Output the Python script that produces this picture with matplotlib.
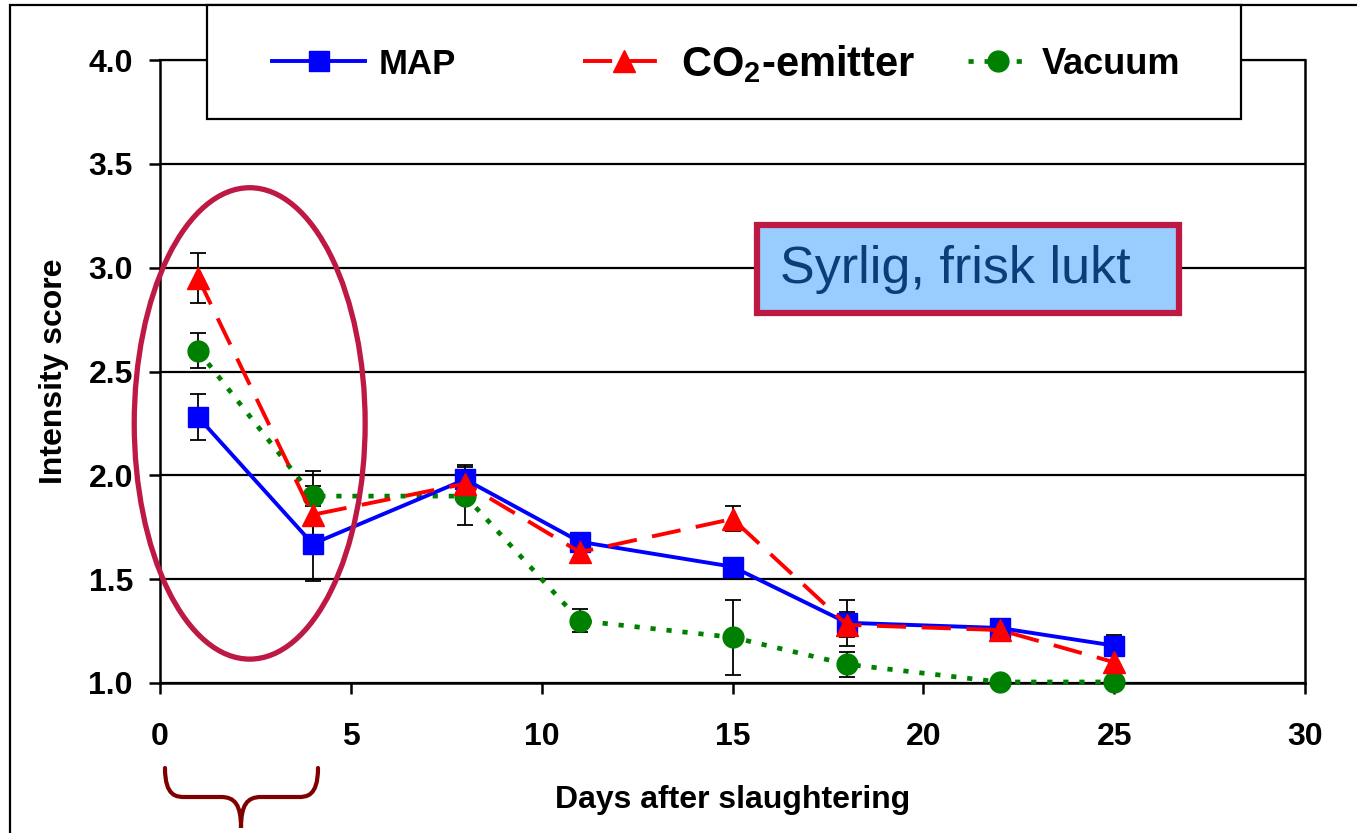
import matplotlib
matplotlib.use("Agg")
import matplotlib.pyplot as plt
from matplotlib.patches import Ellipse, Rectangle, PathPatch
from matplotlib.path import Path

plt.rcParams['font.family'] = ['Liberation Sans', 'DejaVu Sans']
plt.rcParams['mathtext.fontset'] = 'custom'
plt.rcParams['mathtext.rm'] = 'Liberation Sans:bold'
plt.rcParams['mathtext.it'] = 'Liberation Sans:bold'

# data
days = [1, 4, 8, 11, 15, 18, 22, 25]
map_vals = [2.28, 1.67, 1.98, 1.68, 1.56, 1.29, 1.265, 1.18]
map_err = [0.11, 0.18, 0.07, 0.04, 0.03, 0.11, 0.03, 0.05]
co2_vals = [2.95, 1.81, 1.96, 1.63, 1.79, 1.28, 1.255, 1.10]
co2_err = [0.12, 0.14, 0.03, 0.05, 0.06, 0.06, 0.03, 0.03]
vac_vals = [2.60, 1.90, 1.90, 1.30, 1.22, 1.09, 1.005, 1.005]
vac_err = [0.085, 0.12, 0.14, 0.055, 0.18, 0.06, 0.02, 0.02]

xticks = [0, 5, 10, 15, 20, 25, 30]
yticks = [1.0, 1.5, 2.0, 2.5, 3.0, 3.5, 4.0]

W, H = 1357, 833
fig = plt.figure(figsize=(W / 100, H / 100), dpi=100)
ax = fig.add_axes([160 / W, 1 - 683 / H, (1305 - 160) / W, (683 - 60) / H])

# error bars
for vals, err in [(map_vals, map_err), (co2_vals, co2_err), (vac_vals, vac_err)]:
    ax.errorbar(days, vals, yerr=err, fmt='none', ecolor='black', elinewidth=1.3,
                capsize=6, capthick=1.3, zorder=3, clip_on=False)

l_map, = ax.plot(days, map_vals, color='#0000FF', lw=2.8, marker='s', ms=15,
                 label='MAP', zorder=5, clip_on=False)
l_co2, = ax.plot(days, co2_vals, color='#FF0000', lw=2.8, dashes=(7.5, 4), marker='^',
                 ms=16, label='CO$_2$-emitter', zorder=6, clip_on=False)
l_vac, = ax.plot(days, vac_vals, color='#008000', lw=3.4, dashes=(1.1, 2.3), marker='o',
                 ms=15, label='Vacuum', zorder=4, clip_on=False)

ax.set_xlim(0, 30)
ax.set_ylim(1, 4)
ax.set_xticks(xticks)
ax.set_yticks(yticks)
ax.set_xticklabels([str(t) for t in xticks])
ax.set_yticklabels(['%.1f' % t for t in yticks])
ax.yaxis.grid(True, color='black', lw=1.6)
ax.set_axisbelow(True)
for s in ['left', 'bottom', 'right']:
    ax.spines[s].set_linewidth(1.8)
ax.spines['top'].set_linewidth(1.6)
ax.tick_params(direction='out', length=8, width=1.8, labelsize=23, pad=11.5)
ax.tick_params(axis='x', pad=20)
for lab in ax.get_xticklabels() + ax.get_yticklabels():
    lab.set_fontweight('bold')

ax.set_xlabel('Days after slaughtering', fontsize=23, fontweight='bold', labelpad=24)
ax.set_ylabel('Intensity score', fontsize=23, fontweight='bold', labelpad=14)

# ellipse around the first days
ell = Ellipse((2.35, 2.25), 6.05, 2.27, fill=False, edgecolor='#BE1845', lw=3.8,
              zorder=7, clip_on=False)
ax.add_patch(ell)

# curly brace below the axis (drawn in pixel coordinates of the figure)
bx0, bx1, bxm = 165, 318, 241
by0, bym, by1 = 768, 797, 828
pts = [(bx0, by0), (bx0, bym), (bx0 + 12, bym), (bx0 + 20, bym),
       (bxm - 20, bym), (bxm - 6, bym), (bxm, bym + 8), (bxm, by1),
       (bxm, bym + 8), (bxm + 6, bym), (bxm + 20, bym),
       (bx1 - 20, bym), (bx1 - 12, bym), (bx1, bym), (bx1, by0)]
codes = [Path.MOVETO, Path.CURVE4, Path.CURVE4, Path.CURVE4,
         Path.LINETO, Path.CURVE4, Path.CURVE4, Path.CURVE4,
         Path.CURVE4, Path.CURVE4, Path.CURVE4,
         Path.LINETO, Path.CURVE4, Path.CURVE4, Path.CURVE4]
fig_pts = [(x / W, 1 - y / H) for x, y in pts]
brace = PathPatch(Path(fig_pts, codes), fill=False, edgecolor='#800000', lw=3,
                  transform=fig.transFigure, capstyle='round')
fig.add_artist(brace)

# text box
box = Rectangle((757 / W, 1 - 313 / H), (1179 - 757) / W, (313 - 225) / H,
                facecolor='#99CCFF', edgecolor='#BE1845', lw=4.5,
                transform=fig.transFigure, zorder=8)
fig.add_artist(box)
fig.text(780 / W, 1 - 270 / H, 'Syrlig, frisk lukt', fontsize=37.5, color='#0A3E78',
         va='center', ha='left', zorder=9)

# legend box
fig.add_artist(Rectangle((207 / W, 1 - 119 / H), (1241 - 207) / W, (119 - 5) / H,
                         facecolor='white', edgecolor='black', lw=1.6,
                         transform=fig.transFigure, zorder=10))
leg_specs = [(l_map, 272, 2.68, 25), (l_co2, 583, 1.95, 30), (l_vac, 968, 1.65, 26)]
for line, xs, hl, fs in leg_specs:
    lg = fig.legend([line], [line.get_label()], loc='center left',
                    bbox_to_anchor=(xs / W, 1 - 64 / H), frameon=False,
                    borderpad=0, borderaxespad=0, handlelength=hl,
                    handletextpad=0.4, prop={'weight': 'bold', 'size': fs})
    lg.set_zorder(11)

# outer frame
fig.add_artist(Rectangle((10 / W, -0.1), 1.2, 1.1 - 5 / H, fill=False,
                         edgecolor='black', lw=1.6, transform=fig.transFigure))

fig.savefig('out.png', dpi=100)
